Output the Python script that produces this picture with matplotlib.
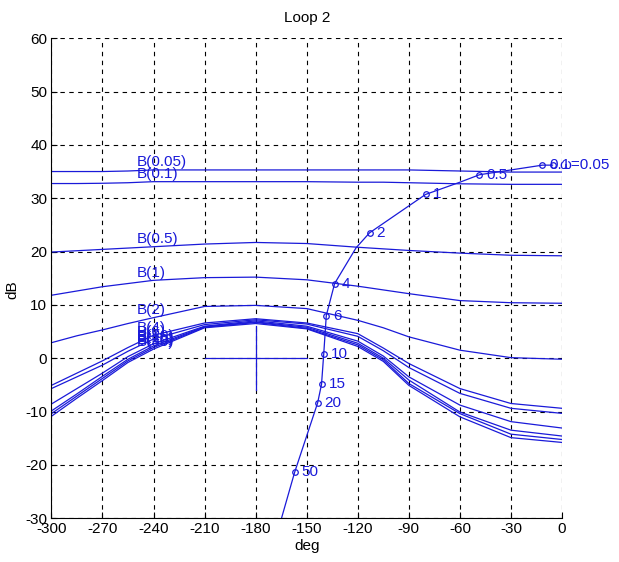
import numpy as np
import matplotlib.pyplot as plt

plt.rcParams['font.family'] = ['Liberation Sans', 'DejaVu Sans']
plt.rcParams['axes.unicode_minus'] = False

# phase grid (deg) on which the bounds were read
phase_grid = [-300, -285, -270, -255, -240, -210, -180, -150, -120, -105, -90, -60, -30, 0]

# bounds B(w) in dB
b_names = ['0.05', '0.1', '0.5', '1', '2', '4', '6', '10', '15', '20', '50']
b_005 = [35.0, 35.0, 35.0, 35.1, 35.3, 35.3, 35.3, 35.3, 35.3, 35.3, 35.3, 35.1, 34.9, 34.9]
b_01 = [32.75, 32.75, 32.8, 32.9, 33.1, 33.1, 33.1, 33.1, 33.0, 33.0, 32.9, 32.7, 32.6, 32.6]
b_05 = [19.9, 20.15, 20.4, 20.65, 20.9, 21.4, 21.7, 21.5, 20.8, 20.5, 20.2, 19.7, 19.3, 19.2]
b_1 = [11.8, 12.6, 13.4, 14.0, 14.6, 15.1, 15.2, 14.7, 13.5, 12.8, 12.1, 10.8, 10.4, 10.3]
b_2 = [2.9, 4.2, 5.3, 6.5, 7.6, 9.7, 9.9, 9.3, 7.1, 5.7, 4.0, 1.5, 0.1, -0.2]
b_4 = [-5.1, -2.8, -0.5, 2.0, 4.3, 6.6, 7.4, 6.6, 4.6, 1.9, -1.0, -5.7, -8.5, -9.4]
b_6 = [-5.7, -3.5, -1.3, 1.3, 3.6, 6.3, 7.2, 6.4, 4.1, 1.4, -1.75, -6.6, -9.4, -10.35]
b_10 = [-8.6, -5.7, -2.8, 0.3, 2.7, 6.0, 7.0, 6.0, 3.2, 0.4, -3.5, -8.8, -11.9, -13.1]
b_15 = [-9.9, -6.7, -3.4, -0.2, 2.3, 5.9, 6.8, 5.8, 2.8, 0.0, -4.1, -10.1, -13.5, -14.6]
b_20 = [-10.4, -7.1, -3.8, -0.5, 2.0, 5.8, 6.7, 5.6, 2.5, -0.3, -4.75, -10.4, -14.25, -15.25]
b_50 = [-10.9, -7.5, -4.2, -0.8, 1.7, 5.7, 6.5, 5.5, 2.2, -0.6, -5.1, -11.0, -14.9, -15.8]
bounds = [b_005, b_01, b_05, b_1, b_2, b_4, b_6, b_10, b_15, b_20, b_50]

# loop transmission L(jw) on the Nichols chart
loop_phase = [-5.6, -11.5, -48.5, -60.0, -80.2, -95.3, -113.1, -121.0, -133.6, -138.5, -140.0, -141.3, -143.6, -157.1, -164.8]
loop_mag = [36.2, 36.2, 34.4, 33.0, 30.7, 27.4, 23.5, 20.7, 14.0, 8.0, 0.8, -4.9, -8.4, -21.4, -30.0]
# frequency markers
mark_w = ['\u03c9=0.05', '0.1', '0.5', '1', '2', '4', '6', '10', '15', '20', '50']
mark_phase = [-5.6, -11.5, -48.5, -80.2, -113.1, -133.6, -138.5, -140.0, -141.3, -143.6, -157.1]
mark_mag = [36.2, 36.2, 34.4, 30.7, 23.5, 14.0, 8.0, 0.8, -4.9, -8.4, -21.4]

col = (0.1, 0.1, 0.85)

fig = plt.figure(figsize=(6.19, 5.62), dpi=100)
ax = fig.add_axes([0.083, 0.078, 0.825, 0.854])

for name, b in zip(b_names, bounds):
    ax.plot(phase_grid, b, color=col, lw=0.9)
    ax.text(-250, b[4] + 1.4, 'B(' + name + ')', color=col, fontsize=11,
            ha='left', va='center')

# critical point cross
ax.plot([-180, -180], [-6, 6], color=col, lw=0.9)
ax.plot([-210, -150], [0, 0], color=col, lw=0.9)

ax.plot(loop_phase, loop_mag, color=col, lw=0.9)
ax.plot(mark_phase, mark_mag, 'o', color=col, ms=4, mfc='none', mew=0.9)
for lab, p, m in zip(mark_w, mark_phase, mark_mag):
    ax.annotate(lab, (p, m), xytext=(5, 0), textcoords='offset points',
                color=col, fontsize=11, va='center', annotation_clip=False)

ax.set_xlim(-300, 0)
ax.set_ylim(-30, 60)
ax.set_xticks(np.arange(-300, 1, 30))
ax.set_yticks(np.arange(-30, 61, 10))
ax.tick_params(direction='in', length=4, labelsize=11, colors='black', pad=3)
ax.grid(True, color='black', linestyle=(0, (4, 4)), linewidth=0.8)
ax.spines['top'].set_visible(False)
ax.spines['right'].set_visible(False)
ax.set_title('Loop 2', fontsize=11, pad=12)
ax.set_xlabel('deg', fontsize=11, labelpad=2)
ax.set_ylabel('dB', fontsize=11)
ax.yaxis.set_label_coords(-0.063, 0.476)

fig.savefig('out.png', dpi=100)
